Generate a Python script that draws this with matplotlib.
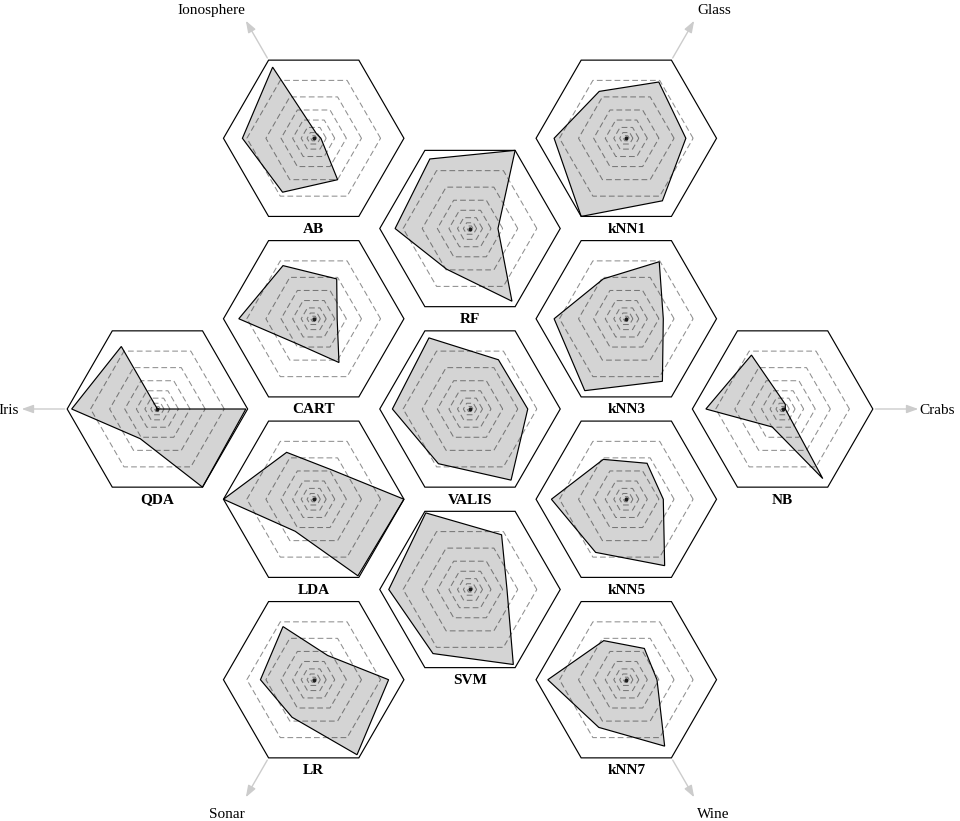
import numpy as np
import matplotlib
matplotlib.use("Agg")
import matplotlib.pyplot as plt
from matplotlib.patches import Polygon

# ---- data -------------------------------------------------------------
datasets = ["Ionosphere", "Glass", "Crabs", "Wine", "Sonar", "Iris"]
axis_angles = [120, 60, 0, -60, -120, 180]          # direction of each dataset axis

classifiers = ["VALIS", "RF", "SVM", "CART", "LDA", "kNN3", "kNN5",
               "AB", "kNN1", "QDA", "NB", "LR", "kNN7"]
# hex-grid cell of every classifier (column, half-row)
grid_col = [0, 0, 0, -1, -1, 1, 1, -1, 1, -2, 2, -1, 1]
grid_row = [0, -2, 2, -1, 1, -1, 1, -3, -3, 0, 0, 3, 3]

# radial score per dataset (Ionosphere, Glass, Crabs, Wine, Sonar, Iris)
VALIS = [0.91, 0.63, 0.64, 0.91, 0.70, 0.86]
RF    = [0.89, 1.00, 0.31, 0.93, 0.52, 0.83]
SVM   = [0.98, 0.70, 0.41, 0.96, 0.82, 0.90]
CART  = [0.68, 0.51, 0.26, 0.56, 0.33, 0.83]
LDA   = [0.60, 0.38, 1.00, 0.98, 0.41, 1.00]
kNN3  = [0.51, 0.73, 0.41, 0.80, 0.92, 0.80]
kNN5  = [0.51, 0.46, 0.41, 0.85, 0.68, 0.83]
AB    = [0.91, 0.06, 0.08, 0.53, 0.69, 0.79]
kNN1  = [0.60, 0.72, 0.66, 0.80, 1.00, 0.80]
QDA   = [0.80, 0.00, 0.98, 1.00, 0.38, 0.95]
NB    = [0.69, 0.06, 0.03, 0.89, 0.23, 0.85]
LR    = [0.68, 0.31, 0.83, 0.96, 0.48, 0.59]
kNN7  = [0.50, 0.40, 0.34, 0.85, 0.61, 0.87]
scores = [VALIS, RF, SVM, CART, LDA, kNN3, kNN5, AB, kNN1, QDA, NB, LR, kNN7]

ring_levels = [0.1, 0.2, 0.3, 0.4, 0.5, 0.6, 0.7, 0.8, 0.9]
ring_power = 2.85

# which classifier's hexagon carries each dataset's outward arrow
arrow_owner = ["AB", "kNN1", "NB", "kNN7", "LR", "QDA"]

# ---- layout -----------------------------------------------------------
W, H = 960, 821
CX, CY = 470, 409
CELL = 104.2
HEX_R = CELL * np.sqrt(3) / 2
ang = np.deg2rad(axis_angles)
hex_ang = np.deg2rad(np.arange(0, 360, 60))

plt.rcParams['font.family'] = ['Liberation Serif', 'DejaVu Serif']
fig = plt.figure(figsize=(W / 100, H / 100), dpi=100)
ax = fig.add_axes([0, 0, 1, 1])
ax.set_xlim(0, W)
ax.set_ylim(H, 0)
ax.axis('off')


def center_of(i):
    return CX + grid_col[i] * 1.5 * CELL, CY + grid_row[i] * np.sqrt(3) / 2 * CELL


centers = {}
for i, name in enumerate(classifiers):
    cx, cy = center_of(i)
    centers[name] = (cx, cy)
    # outer hexagon
    hx = cx + HEX_R * np.cos(hex_ang)
    hy = cy - HEX_R * np.sin(hex_ang)
    ax.add_patch(Polygon(np.c_[hx, hy], closed=True, fill=False,
                         ec='black', lw=0.85, zorder=2))
    # dashed rings
    for lv in ring_levels:
        rr = HEX_R * lv ** ring_power
        ax.add_patch(Polygon(np.c_[cx + rr * np.cos(hex_ang), cy - rr * np.sin(hex_ang)],
                             closed=True, fill=False, ec='#8f8f8f', lw=0.75,
                             ls=(0, (5.5, 3)), zorder=1))
    ax.plot([cx], [cy], 'o', ms=1.8, color='#222222', zorder=1)
    # score polygon
    s = np.array(scores[i]) * HEX_R
    px = cx + s * np.cos(ang)
    py = cy - s * np.sin(ang)
    ax.add_patch(Polygon(np.c_[px, py], closed=True, fc='black', alpha=0.17,
                         ec='none', zorder=3))
    ax.add_patch(Polygon(np.c_[px, py], closed=True, fill=False,
                         ec='black', lw=0.85, zorder=4))
    ax.text(cx, cy + 94.5, name, ha='center', va='baseline',
            fontsize=11, fontweight='bold', zorder=5)

# dataset arrows and labels
ARROW_LEN = 43
for k, ds in enumerate(datasets):
    cx, cy = centers[arrow_owner[k]]
    a = ang[k]
    ux, uy = np.cos(a), -np.sin(a)
    sx, sy = cx + (HEX_R + 2.5) * ux, cy + (HEX_R + 2.5) * uy
    tx, ty = sx + ARROW_LEN * ux, sy + ARROW_LEN * uy
    ax.annotate('', xy=(tx, ty), xytext=(sx, sy),
                arrowprops=dict(arrowstyle='-|>,head_length=0.7,head_width=0.25',
                                color='#cccccc', lw=1, shrinkA=0, shrinkB=0,
                                mutation_scale=10))
    if abs(uy) < 1e-6:
        ha = 'left' if ux > 0 else 'right'
        ax.text(tx + (1 if ux > 0 else -3), ty + 5.5, ds, ha=ha, va='baseline', fontsize=11)
    else:
        ha = 'left' if ux > 0 else 'right'
        yb = ty - 7 if uy < 0 else ty + 20.5
        ax.text(tx + (3 if ux > 0 else -1), yb, ds, ha=ha, va='baseline', fontsize=11)

fig.savefig('out.png', dpi=100)
